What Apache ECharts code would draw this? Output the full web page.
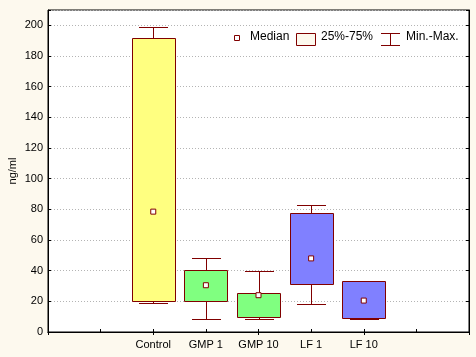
<!DOCTYPE html>
<html>
<head>
<meta charset="utf-8">
<script src="https://cdn.jsdelivr.net/npm/echarts@6/dist/echarts.min.js"></script>
<style>
html,body{margin:0;padding:0;background:#FDF9EE;}
#c{width:476px;height:357px;}
</style>
</head>
<body>
<div id="c"></div>
<script>
// ---- data ----
const categories = ['Control', 'GMP 1', 'GMP 10', 'LF 1', 'LF 10'];
const minVals = [19, 8.5, 8.5, 18.5, 8.5];
const q1Vals  = [20, 20.5, 9.5, 31.5, 9];
const medVals = [78.5, 30.5, 24, 48, 20.5];
const q3Vals  = [191.5, 40.5, 25.5, 77.5, 33.5];
const maxVals = [199, 48, 40, 83, 33.5];
const yTicks = [0, 20, 40, 60, 80, 100, 120, 140, 160, 180, 200];

// ---- styles ----
const boxColors = ['#FFFF80', '#80FF80', '#80FF80', '#8080FF', '#8080FF'];
const edge = '#800000';
const offset = 2; // empty slots before first category
const axisCats = ['', ''].concat(categories, ['', '']);

const boxData = categories.map((c, i) => [i + offset, minVals[i], q1Vals[i], medVals[i], q3Vals[i], maxVals[i]]);
const medData = categories.map((c, i) => [i + offset, medVals[i]]);

const chart = echarts.init(document.getElementById('c'), null, {renderer: 'canvas'});
const font = 'Arial, "Liberation Sans", sans-serif';
const px = v => Math.round(v) + 0.5;

chart.setOption({
  backgroundColor: '#FDF9EE',
  animation: false,
  grid: {left: 48, right: 7, top: 10, bottom: 25, show: true, backgroundColor: '#FFFFFF', borderColor: '#000', borderWidth: 1,
    containLabel: false, outerBoundsMode: 'none'},
  xAxis: [{
    type: 'category', data: axisCats, boundaryGap: false, position: 'bottom',
    axisLine: {lineStyle: {color: '#000', width: 1}},
    axisTick: {inside: true, length: 3, lineStyle: {color: '#000'}},
    axisLabel: {fontFamily: font, fontSize: 11, color: '#000', margin: 7, interval: 0},
    splitLine: {show: false}
  }, {
    type: 'category', data: axisCats, boundaryGap: false, position: 'top',
    axisLine: {lineStyle: {color: '#000', width: 1}},
    axisTick: {inside: true, length: 3, lineStyle: {color: '#000'}},
    axisLabel: {show: false}, splitLine: {show: false}
  }],
  yAxis: [{
    type: 'value', min: 0, max: 210, interval: 20, position: 'left',
    name: 'ng/ml', nameLocation: 'middle', nameGap: 30, nameRotate: 90, nameMoveOverlap: false,
    nameTextStyle: {fontFamily: font, fontSize: 11, color: '#000'},
    axisLine: {show: true, lineStyle: {color: '#000', width: 1}},
    axisTick: {show: true, inside: true, length: 3, lineStyle: {color: '#000'}},
    axisLabel: {fontFamily: font, fontSize: 11, color: '#000', margin: 5,
      formatter: v => yTicks.indexOf(v) >= 0 ? String(v) : ''},
    splitLine: {show: true, lineStyle: {color: '#B4B4B4', type: [1, 2], width: 1}}
  }, {
    type: 'value', min: 0, max: 210, interval: 20, position: 'right',
    axisLine: {show: true, lineStyle: {color: '#000', width: 1}},
    axisTick: {show: true, inside: true, length: 3, lineStyle: {color: '#000'}},
    axisLabel: {show: false}, splitLine: {show: false}
  }],
  series: [{
    name: 'Min.-Max.', type: 'custom', data: boxData, z: 2,
    renderItem: function (params, api) {
      const xi = api.value(0);
      const x = px(api.coord([xi, 0])[0]);
      const band = api.size([1, 0])[0];
      const cap = Math.round(band * 0.56);
      const yMin = px(api.coord([xi, api.value(1)])[1]);
      const yQ1 = px(api.coord([xi, api.value(2)])[1]);
      const yQ3 = px(api.coord([xi, api.value(4)])[1]);
      const yMax = px(api.coord([xi, api.value(5)])[1]);
      const st = {stroke: edge, lineWidth: 1, fill: null};
      return {type: 'group', children: [
        {type: 'line', shape: {x1: x, y1: yQ3, x2: x, y2: yMax}, style: st},
        {type: 'line', shape: {x1: x, y1: yQ1, x2: x, y2: yMin}, style: st},
        {type: 'line', shape: {x1: x - cap / 2, y1: yMax, x2: x + cap / 2, y2: yMax}, style: st},
        {type: 'line', shape: {x1: x - cap / 2, y1: yMin, x2: x + cap / 2, y2: yMin}, style: st}
      ]};
    }
  }, {
    name: '25%-75%', type: 'custom', data: boxData, z: 3,
    renderItem: function (params, api) {
      const xi = api.value(0);
      const x = api.coord([xi, 0])[0];
      const band = api.size([1, 0])[0];
      const w = Math.round(band * 0.82);
      const yQ1 = px(api.coord([xi, api.value(2)])[1]);
      const yQ3 = px(api.coord([xi, api.value(4)])[1]);
      const x0 = px(x - w / 2);
      return {type: 'rect', shape: {x: x0, y: yQ3, width: w, height: yQ1 - yQ3},
        style: {fill: boxColors[params.dataIndex], stroke: edge, lineWidth: 1}};
    }
  }, {
    name: 'Median', type: 'scatter', data: medData, z: 4,
    symbol: 'rect', symbolSize: 5,
    itemStyle: {color: '#FFFFFF', borderColor: edge, borderWidth: 1, opacity: 1}
  }],
  graphic: [
    {type: 'rect', shape: {x: 234.5, y: 35.5, width: 5, height: 5}, style: {fill: '#FFFFFF', stroke: edge, lineWidth: 1}, z: 10},
    {type: 'text', left: 250, top: 31, style: {text: 'Median', font: '12px ' + font, fill: '#000'}, z: 10},
    {type: 'rect', shape: {x: 296.5, y: 33.5, width: 19, height: 12}, style: {fill: '#FDF9EE', stroke: edge, lineWidth: 1}, z: 10},
    {type: 'text', left: 321, top: 31, style: {text: '25%-75%', font: '12px ' + font, fill: '#000'}, z: 10},
    {type: 'line', shape: {x1: 381, y1: 33.5, x2: 400, y2: 33.5}, style: {stroke: edge, lineWidth: 1}, z: 10},
    {type: 'line', shape: {x1: 381, y1: 45.5, x2: 400, y2: 45.5}, style: {stroke: edge, lineWidth: 1}, z: 10},
    {type: 'line', shape: {x1: 390.5, y1: 33.5, x2: 390.5, y2: 45.5}, style: {stroke: edge, lineWidth: 1}, z: 10},
    {type: 'text', left: 406, top: 31, style: {text: 'Min.-Max.', font: '12px ' + font, fill: '#000'}, z: 10}
  ]
});
</script>
</body>
</html>
